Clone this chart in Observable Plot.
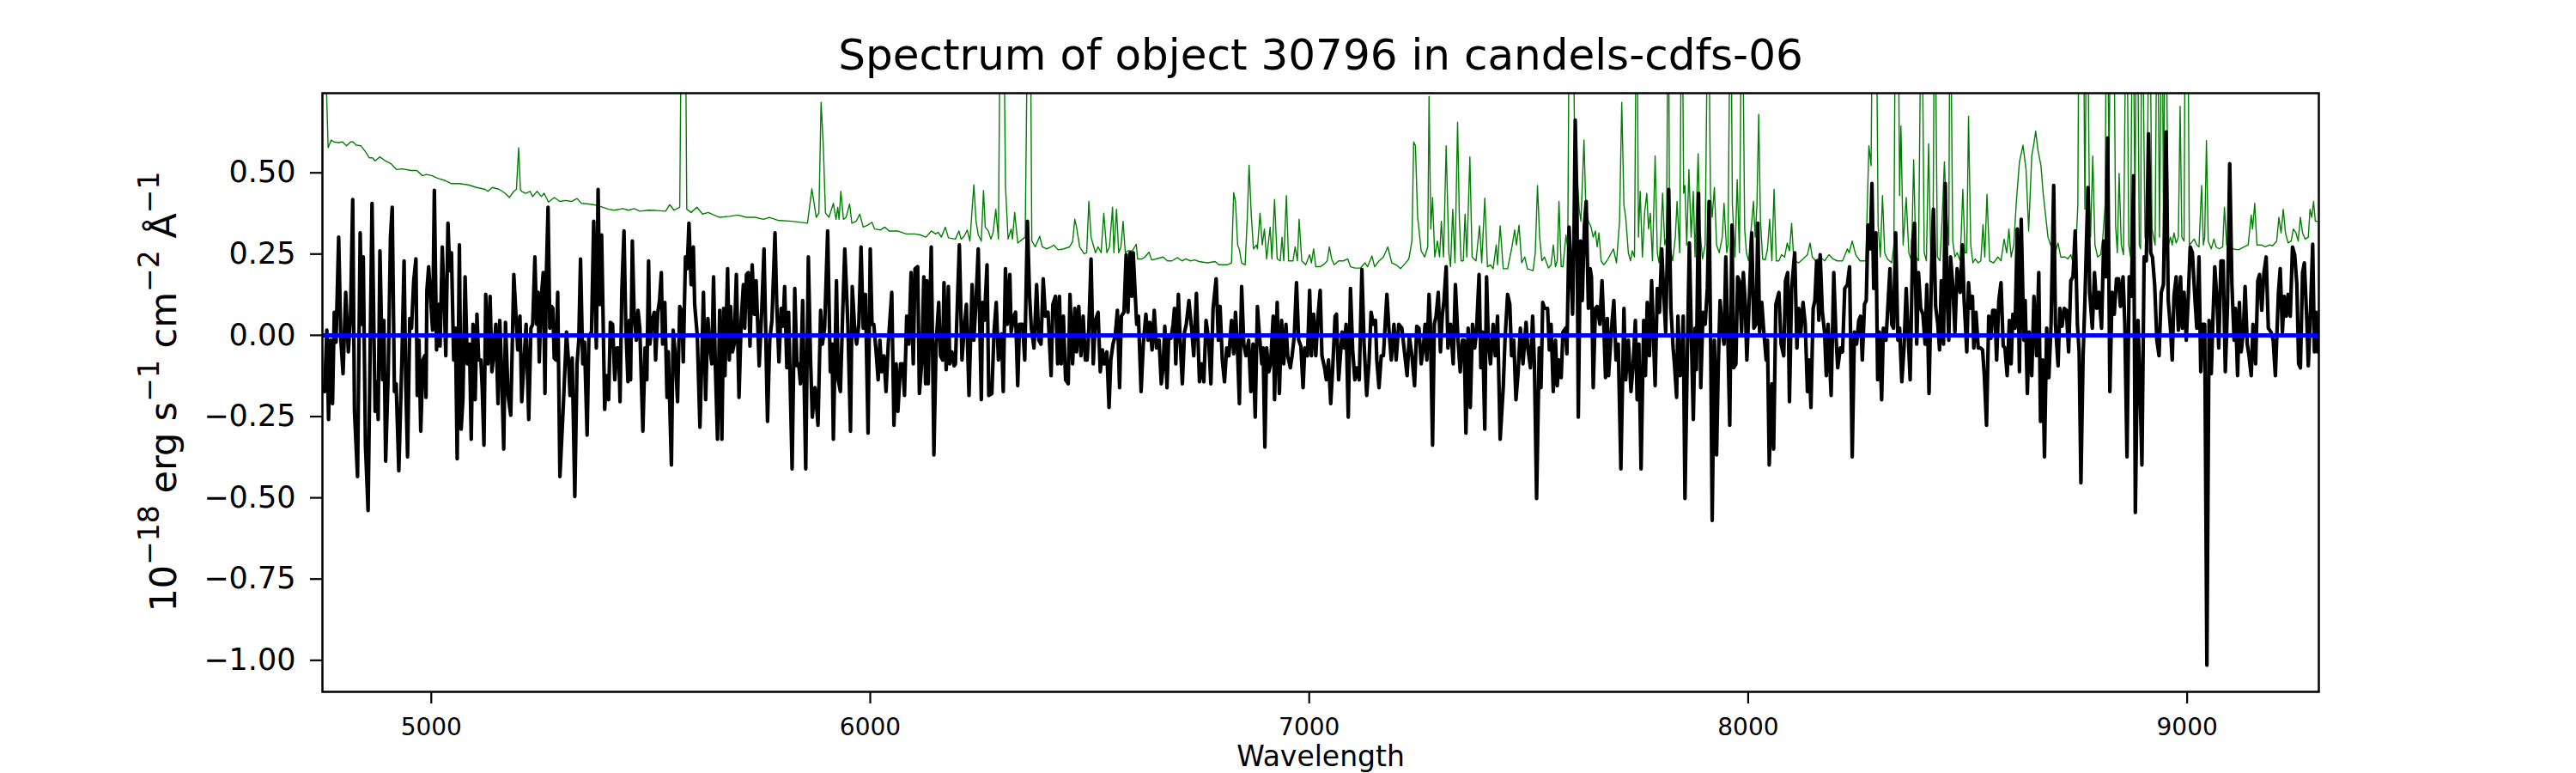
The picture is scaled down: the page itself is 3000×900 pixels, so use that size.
<!DOCTYPE html>
<html><head><meta charset="utf-8">
<script src="https://cdn.jsdelivr.net/npm/d3@7"></script>
<script src="https://cdn.jsdelivr.net/npm/@observablehq/plot@0.6"></script>
<style>
html,body{margin:0;padding:0;background:#fff;}
#chart svg{display:block}
</style></head><body><div id="chart"></div>
<script>
const titleText = "Spectrum of object 30796 in candels-cdfs-06";
const xLabel = "Wavelength";
const xTicks = [5000, 6000, 7000, 8000, 9000];
const yTicks = [-1.0, -0.75, -0.5, -0.25, 0, 0.25, 0.5];

// object spectrum [wavelength (Å), flux]
const objectFlux = [
[4752,-0.161],[4757,-0.173],[4762,0.016],[4766,-0.259],[4770,-0.015],[4775,-0.210],[4779,0.071],[4783,-0.021],[4789,0.302],[4794,-0.015],[4799,-0.118],[4805,0.132],[4811,-0.051],[4816,0.059],[4821,0.418],[4825,-0.234],[4832,-0.435],[4838,0.315],[4842,0.034],[4845,0.241],[4850,-0.338],[4856,-0.539],[4865,0.406],[4872,-0.234],[4876,-0.143],[4879,-0.259],[4883,0.260],[4889,-0.137],[4892,0.046],[4896,-0.387],[4902,-0.112],[4907,0.302],[4911,0.394],[4916,-0.173],[4920,-0.149],[4926,-0.417],[4933,-0.076],[4938,0.229],[4942,-0.161],[4946,-0.374],[4951,0.052],[4955,0.022],[4960,0.168],[4965,0.235],[4968,-0.185],[4972,-0.015],[4976,-0.295],[4981,-0.076],[4985,-0.063],[4988,-0.191],[4990,0.138],[4994,0.211],[4999,0.101],[5003,0.016],[5007,0.446],[5012,-0.045],[5017,0.095],[5020,-0.033],[5025,0.272],[5030,0.083],[5033,-0.063],[5038,0.345],[5042,0.199],[5046,0.254],[5051,-0.076],[5055,0.022],[5059,-0.380],[5064,0.278],[5068,-0.289],[5072,-0.198],[5077,0.180],[5082,-0.088],[5087,-0.027],[5091,-0.320],[5095,0.034],[5100,-0.198],[5104,0.065],[5108,-0.076],[5113,-0.076],[5116,-0.161],[5120,-0.338],[5124,0.126],[5129,-0.088],[5134,0.120],[5138,-0.112],[5142,-0.063],[5147,0.034],[5152,-0.210],[5156,0.046],[5160,-0.100],[5165,-0.350],[5169,0.040],[5175,-0.185],[5181,-0.246],[5188,0.187],[5193,0.059],[5197,-0.045],[5202,0.059],[5206,-0.204],
[5216,0.034],[5222,-0.259],[5227,0.022],[5231,0.034],[5236,0.241],[5240,0.034],[5243,0.132],[5246,-0.082],[5250,0.107],[5255,0.193],[5259,-0.179],[5262,0.180],[5266,0.394],[5270,0.022],[5274,0.089],[5277,0.083],[5280,-0.070],[5284,-0.076],[5288,0.132],[5293,-0.435],[5301,-0.210],[5308,0.010],[5313,-0.088],[5316,-0.185],[5321,-0.070],[5327,-0.496],[5332,-0.088],[5336,-0.015],[5340,0.235],[5345,-0.088],[5349,-0.021],[5355,-0.307],[5359,-0.002],[5365,0.010],[5370,0.351],[5373,0.156],[5376,-0.039],[5380,0.449],[5384,0.095],[5388,0.309],[5391,0.083],[5395,-0.228],[5399,-0.124],[5404,-0.198],[5408,0.040],[5413,0.034],[5418,-0.137],[5423,-0.039],[5427,-0.039],[5430,-0.204],[5434,0.132],[5439,0.321],[5443,0.034],[5448,-0.143],[5451,0.046],[5454,-0.137],[5458,0.290],[5462,0.071],[5467,-0.015],[5471,0.077],[5475,0.022],[5482,-0.295],[5487,-0.039],[5491,-0.137],[5495,0.229],[5498,-0.027],[5503,0.046],[5508,0.071],[5511,-0.076],[5516,0.071],[5520,0.107],[5524,0.193],[5527,-0.027],[5532,0.101],[5537,-0.191],[5540,-0.051],[5547,-0.399],[5551,0.016],[5556,-0.063],[5561,-0.204],[5566,0.089],[5571,0.071],[5574,-0.082],[5579,0.241],[5583,0.205],[5587,0.345],[5592,0.156],[5597,0.272],[5600,0.095],[5606,-0.002],[5612,-0.283],[5616,-0.088],[5620,0.132],[5625,-0.198],[5630,0.052],[5634,-0.027],[5639,-0.088],[5643,0.180],[5647,-0.088],[5652,-0.320],[5657,0.077],
[5662,-0.320],[5666,0.083],[5669,-0.124],[5675,0.205],[5679,-0.076],[5682,0.089],[5686,-0.051],[5690,-0.027],[5695,0.187],[5701,-0.191],[5706,0.046],[5711,0.156],[5714,0.022],[5718,0.187],[5722,0.193],[5726,-0.033],[5731,0.217],[5736,0.065],[5740,0.168],[5747,-0.094],[5753,0.083],[5758,0.266],[5766,-0.265],[5771,-0.015],[5776,0.046],[5783,0.315],[5787,0.095],[5792,-0.082],[5797,0.083],[5801,0.028],[5805,0.150],[5810,-0.100],[5814,0.071],[5822,-0.411],[5828,0.144],[5833,-0.094],[5837,-0.088],[5841,-0.149],[5846,0.107],[5853,-0.411],[5859,0.241],[5864,-0.076],[5868,-0.252],[5874,-0.161],[5877,-0.204],[5881,-0.277],[5887,0.077],[5891,-0.027],[5896,0.022],[5903,0.321],[5909,-0.112],[5913,-0.027],[5916,-0.320],[5923,0.168],[5927,-0.137],[5932,-0.173],[5937,0.059],[5942,0.266],[5949,0.034],[5955,-0.295],[5959,0.150],[5965,0.010],[5969,-0.027],[5974,0.034],[5979,0.272],[5984,0.022],[5989,0.126],[5995,-0.301],[6000,0.266],[6004,0.034],[6008,0.034],[6013,-0.045],[6018,-0.137],[6022,-0.015],[6026,-0.112],[6031,-0.063],[6036,-0.173],[6041,-0.027],[6049,0.132],[6054,-0.277],[6059,-0.088],[6063,-0.234],[6069,-0.088],[6074,-0.088],[6078,-0.185],[6083,0.059],[6088,-0.027],[6093,0.193],[6098,-0.088],[6102,0.205],[6108,0.211],[6112,-0.179],[6117,-0.088],[6122,0.180],[6126,-0.149],
[6129,0.168],[6132,-0.149],[6139,0.272],[6145,-0.368],[6150,-0.027],[6156,0.101],[6160,-0.063],[6165,-0.076],[6168,0.162],[6173,-0.106],[6178,0.150],[6181,-0.088],[6186,-0.051],[6191,-0.094],[6194,-0.088],[6199,0.120],[6203,0.278],[6209,-0.076],[6214,0.022],[6219,0.095],[6225,-0.185],[6232,0.156],[6236,-0.015],[6241,0.107],[6246,0.266],[6253,-0.198],[6256,0.101],[6260,0.046],[6266,0.217],[6270,-0.185],[6277,-0.179],[6282,0.010],[6287,0.101],[6292,-0.076],[6295,-0.045],[6299,0.004],[6303,-0.173],[6308,0.205],[6312,0.034],[6318,0.187],[6321,0.010],[6327,0.059],[6331,0.071],[6336,-0.155],[6340,0.034],[6347,0.034],[6352,-0.076],[6358,0.351],[6363,0.120],[6367,0.022],[6373,-0.039],[6379,0.156],[6384,-0.015],[6389,-0.027],[6394,0.174],[6399,0.059],[6405,0.071],[6412,-0.124],[6416,0.095],[6422,0.120],[6427,-0.088],[6431,0.120],[6435,-0.088],[6440,0.059],[6445,-0.137],[6451,-0.149],[6455,0.126],[6461,-0.088],[6466,0.083],[6470,-0.051],[6475,0.089],[6480,-0.063],[6485,0.059],[6490,-0.076],[6494,-0.076],[6498,0.022],[6503,0.235],[6508,-0.088],[6513,0.046],[6519,0.071],[6524,-0.112],[6529,-0.045],[6533,-0.088],[6539,-0.051],[6544,-0.222],[6548,-0.076],[6553,-0.027],[6558,-0.002],[6563,0.077],[6568,-0.161],[6572,0.059],[6578,0.071],[6583,0.248],[6587,0.071],[6592,0.254],[6596,0.120],
[6599,0.254],[6607,0.034],[6611,0.059],[6617,-0.173],[6622,-0.027],[6628,0.065],[6633,-0.015],[6637,0.040],[6642,-0.045],[6647,0.077],[6652,-0.039],[6658,-0.015],[6663,-0.149],[6667,-0.100],[6671,0.028],[6676,-0.161],[6680,-0.002],[6685,-0.009],[6690,0.034],[6693,0.083],[6696,-0.088],[6702,0.126],[6706,-0.015],[6711,-0.149],[6716,0.010],[6720,0.034],[6726,0.107],[6732,0.022],[6737,-0.063],[6743,0.129],[6750,-0.143],[6755,-0.088],[6760,-0.143],[6765,0.046],[6771,-0.015],[6776,-0.149],[6781,0.083],[6788,0.174],[6793,-0.015],[6797,0.089],[6802,-0.076],[6807,-0.143],[6812,-0.039],[6817,-0.063],[6823,0.046],[6828,-0.057],[6832,0.071],[6836,-0.021],[6841,-0.210],[6846,0.150],[6851,-0.027],[6856,-0.063],[6862,-0.015],[6867,-0.173],[6872,-0.027],[6877,-0.252],[6882,0.089],[6886,0.010],[6892,-0.088],[6895,-0.039],[6899,-0.344],[6903,-0.039],[6908,-0.112],[6912,-0.088],[6918,0.059],[6921,-0.198],[6927,0.101],[6932,-0.179],[6937,0.046],[6942,-0.088],[6947,0.034],[6951,-0.063],[6957,-0.100],[6961,-0.063],[6966,-0.002],[6971,0.162],[6976,-0.015],[6981,-0.033],[6986,-0.161],[6990,-0.039],[6996,-0.063],[7001,0.138],[7005,-0.063],[7010,0.065],[7015,-0.063],[7020,0.059],[7025,0.138],[7029,-0.063],[7035,-0.100],[7039,-0.137],[7044,-0.076],[7049,-0.210],[7054,-0.088],[7059,0.059],[7062,0.065],[7067,-0.137],
[7075,0.010],[7080,-0.039],[7084,0.034],[7089,-0.252],[7094,0.144],[7099,-0.045],[7104,-0.137],[7108,-0.100],[7114,-0.137],[7120,0.202],[7125,-0.027],[7131,-0.185],[7136,-0.088],[7141,0.071],[7146,0.034],[7151,0.046],[7154,-0.076],[7159,-0.161],[7164,-0.063],[7169,-0.063],[7177,0.126],[7182,0.010],[7187,-0.076],[7193,0.034],[7198,-0.076],[7204,0.034],[7211,0.022],[7218,-0.063],[7223,-0.124],[7228,-0.002],[7234,-0.063],[7240,-0.155],[7245,0.028],[7250,0.022],[7255,-0.088],[7260,-0.039],[7264,0.034],[7268,-0.076],[7273,0.126],[7276,0.034],[7281,-0.338],[7285,0.034],[7289,0.059],[7294,0.132],[7299,-0.051],[7303,0.059],[7307,0.107],[7312,0.211],[7316,-0.039],[7322,0.034],[7328,-0.088],[7333,0.156],[7339,-0.015],[7344,-0.112],[7349,-0.015],[7353,-0.015],[7357,-0.301],[7362,0.022],[7367,-0.222],[7372,0.034],[7377,-0.039],[7381,0.010],[7387,0.187],[7391,-0.100],[7395,0.010],[7400,-0.289],[7404,0.180],[7408,-0.015],[7413,-0.088],[7419,0.034],[7424,-0.063],[7429,0.059],[7435,-0.320],[7442,-0.161],[7446,-0.015],[7452,0.126],[7457,0.095],[7461,-0.063],[7466,-0.015],[7471,-0.198],[7476,-0.112],[7481,0.022],[7487,-0.088],[7494,0.040],[7498,-0.039],[7504,-0.100],[7509,0.059],[7513,-0.088],[7518,-0.502],[7524,-0.039],[7528,-0.161],[7532,0.101],[7536,0.083],
[7543,0.083],[7547,-0.045],[7551,0.034],[7556,-0.173],[7561,-0.015],[7565,-0.155],[7569,-0.076],[7574,-0.130],[7578,0.010],[7584,0.022],[7587,-0.057],[7592,0.333],[7597,0.180],[7600,0.065],[7603,0.278],[7606,0.662],[7610,0.400],[7613,-0.252],[7618,0.290],[7622,0.107],[7627,0.339],[7631,0.412],[7636,0.083],[7640,0.205],[7643,0.180],[7647,-0.161],[7652,0.083],[7656,0.089],[7662,0.034],[7667,0.168],[7671,0.034],[7675,-0.130],[7679,0.052],[7682,-0.124],[7688,0.010],[7694,0.107],[7699,-0.076],[7704,-0.027],[7710,-0.411],[7717,0.083],[7721,-0.137],[7727,-0.015],[7733,-0.173],[7738,-0.088],[7743,0.046],[7747,-0.198],[7751,-0.027],[7756,-0.411],[7762,0.046],[7766,-0.124],[7770,0.101],[7775,-0.063],[7780,0.168],[7784,0.010],[7788,-0.155],[7793,0.144],[7798,0.071],[7803,0.266],[7808,0.120],[7812,0.010],[7819,0.449],[7824,0.083],[7829,-0.039],[7832,-0.088],[7837,-0.191],[7840,0.059],[7845,-0.124],[7849,-0.088],[7852,0.059],[7856,-0.502],[7861,-0.088],[7866,0.284],[7871,-0.027],[7875,-0.259],[7879,0.022],[7882,-0.106],[7887,0.437],[7892,-0.161],[7897,0.071],[7902,0.034],[7907,0.144],[7911,0.412],[7915,-0.088],[7918,-0.570],[7923,-0.015],[7928,-0.368],[7932,-0.088],[7936,0.107],[7941,0.016],[7945,-0.027],[7949,0.241],[7954,-0.027],[7958,-0.277],[7963,0.339],[7967,-0.100],[7972,-0.088],[7976,0.180],[7980,0.168],[7985,0.010],[7989,0.193],[7993,0.107],[7997,-0.076],[8001,0.059],
[8008,0.315],[8013,0.022],[8018,0.034],[8022,0.345],[8026,0.010],[8031,0.101],[8035,0.022],[8041,-0.076],[8044,-0.015],[8048,-0.399],[8054,-0.149],[8058,-0.350],[8063,0.095],[8070,0.132],[8075,-0.027],[8081,-0.063],[8085,0.168],[8090,0.193],[8094,-0.204],[8099,0.144],[8106,0.254],[8111,-0.039],[8115,0.083],[8120,0.010],[8125,0.101],[8130,0.034],[8135,-0.173],[8139,-0.076],[8143,-0.222],[8148,0.083],[8152,0.107],[8156,0.229],[8161,0.046],[8164,0.248],[8169,0.071],[8174,0.010],[8178,-0.124],[8182,0.034],[8189,-0.185],[8195,0.193],[8200,-0.002],[8204,-0.100],[8210,-0.039],[8215,-0.051],[8220,0.144],[8226,0.156],[8231,0.211],[8237,-0.374],[8242,0.010],[8247,-0.027],[8252,0.046],[8256,0.059],[8260,-0.076],[8265,0.095],[8269,0.107],[8273,0.339],[8278,0.266],[8282,0.467],[8286,0.144],[8291,0.315],[8295,-0.137],[8299,0.010],[8304,-0.198],[8308,0.022],[8314,-0.015],[8317,0.059],[8323,0.205],[8327,0.034],[8331,0.022],[8336,0.315],[8341,-0.015],[8345,0.022],[8350,-0.143],[8355,-0.039],[8360,0.144],[8365,-0.015],[8369,-0.137],[8375,0.290],[8379,0.345],[8384,-0.027],[8388,0.193],[8393,0.083],[8398,0.065],[8403,-0.027],[8407,0.156],[8412,-0.179],[8418,0.217],[8422,0.388],[8427,0.089],[8432,0.034],[8436,-0.045],[8440,0.168],[8445,-0.027],[8449,0.467],[8453,0.132],[8457,-0.015],[8461,0.241],[8466,0.156],[8471,0.010],[8476,0.205],
[8483,0.132],[8488,0.278],[8492,0.107],[8498,-0.051],[8502,0.162],[8506,0.083],[8511,0.120],[8514,-0.039],[8519,0.071],[8524,-0.039],[8529,-0.039],[8534,-0.045],[8538,-0.124],[8543,-0.277],[8548,0.059],[8553,-0.009],[8557,0.077],[8562,0.077],[8566,-0.076],[8571,0.107],[8576,0.162],[8581,-0.033],[8585,-0.039],[8590,-0.124],[8595,0.046],[8599,-0.088],[8603,0.065],[8608,0.022],[8613,0.327],[8618,-0.112],[8622,0.357],[8628,-0.015],[8631,0.107],[8636,-0.179],[8640,0.010],[8646,-0.124],[8651,0.120],[8657,-0.063],[8662,0.193],[8666,-0.265],[8671,-0.076],[8675,-0.374],[8680,0.022],[8685,-0.130],[8690,0.034],[8696,0.461],[8700,0.034],[8706,-0.094],[8710,0.083],[8715,0.028],[8720,0.083],[8725,0.077],[8730,-0.051],[8735,0.168],[8740,0.180],[8745,0.321],[8750,0.034],[8754,-0.051],[8758,-0.454],[8763,-0.063],[8767,0.101],[8774,0.455],[8778,0.132],[8784,0.022],[8789,0.193],[8794,0.083],[8799,0.132],[8805,0.022],[8810,0.290],[8815,0.180],[8819,0.607],[8824,-0.173],[8829,0.132],[8834,0.065],[8839,0.174],[8844,0.174],[8848,0.089],[8854,0.180],[8858,0.034],[8863,-0.374],[8868,0.180],[8873,0.120],[8878,0.491],[8882,-0.545],[8888,0.046],[8892,-0.124],[8897,-0.399],[8902,0.241],[8907,0.229],[8912,0.620],[8917,0.254],[8921,0.241],[8926,0.156],[8931,-0.015],[8936,-0.063],[8941,0.132],[8946,0.156],
[8952,0.626],[8957,0.107],[8962,0.022],[8966,-0.076],[8970,0.120],[8975,0.180],[8980,0.016],[8985,0.180],[8989,0.022],[8993,0.132],[8998,-0.015],[9003,0.132],[9007,0.272],[9012,0.254],[9018,0.107],[9022,0.022],[9027,0.241],[9031,-0.112],[9035,0.034],[9040,0.034],[9045,-1.015],[9050,0.046],[9055,-0.118],[9059,0.059],[9063,0.211],[9068,0.107],[9072,-0.039],[9077,0.229],[9082,0.229],[9087,-0.112],[9092,0.095],[9097,0.528],[9102,0.156],[9107,-0.015],[9110,0.083],[9115,-0.124],[9119,0.101],[9123,-0.051],[9128,0.010],[9132,0.150],[9137,-0.027],[9141,-0.063],[9146,-0.124],[9150,0.034],[9156,-0.088],[9161,0.168],[9165,0.187],[9170,0.077],[9175,0.193],[9180,0.241],[9185,0.022],[9191,0.010],[9196,-0.015],[9201,-0.124],[9208,0.132],[9212,0.205],[9217,0.010],[9221,0.120],[9226,0.059],[9230,0.126],[9235,0.059],[9240,0.272],[9245,0.248],[9250,0.156],[9254,-0.088],[9258,-0.100],[9263,0.193],[9267,0.223],[9273,0.034],[9276,-0.094],[9280,0.034],[9286,0.280],[9290,-0.051],[9294,0.071],[9297,-0.051]
];

// noise / sky spectrum [wavelength (Å), flux]
const noiseFlux = [
[4752,1.2],[4765,0.577],[4772,0.601],[4778,0.595],[4788,0.593],[4798,0.595],[4807,0.583],[4816,0.595],[4822,0.595],[4829,0.585],[4840,0.583],[4850,0.565],[4859,0.546],[4866,0.546],[4872,0.537],[4883,0.549],[4895,0.537],[4908,0.528],[4921,0.510],[4934,0.512],[4954,0.507],[4967,0.507],[4980,0.491],[4989,0.495],[5002,0.491],[5015,0.483],[5032,0.476],[5045,0.467],[5064,0.467],[5084,0.463],[5103,0.455],[5123,0.449],[5129,0.443],[5139,0.455],[5155,0.449],[5168,0.437],[5178,0.424],[5188,0.443],[5194,0.449],[5199,0.577],[5203,0.449],
[5206,0.443],[5215,0.437],[5225,0.443],[5231,0.427],[5241,0.443],[5251,0.427],[5257,0.437],[5267,0.410],[5280,0.424],[5293,0.412],[5306,0.415],[5319,0.412],[5332,0.421],[5342,0.406],[5358,0.404],[5378,0.400],[5391,0.394],[5404,0.388],[5417,0.385],[5436,0.390],[5449,0.385],[5462,0.390],[5475,0.382],[5495,0.385],[5514,0.384],[5534,0.382],[5543,0.402],[5553,0.385],[5566,0.394],[5571,1.2],[5578,1.2],[5582,0.388],[5592,0.378],[5605,0.394],[5618,0.373],[5631,0.378],[5644,0.370],[5657,0.363],
[5679,0.366],[5698,0.370],[5718,0.363],[5737,0.363],[5757,0.357],[5770,0.363],[5789,0.354],[5822,0.351],[5857,0.345],[5867,0.451],[5877,0.363],[5883,0.376],[5888,0.717],[5893,0.583],[5898,0.376],[5906,0.363],[5916,0.406],[5922,0.357],[5926,0.394],[5929,0.357],[5933,0.443],[5939,0.357],[5945,0.363],[5953,0.404],[5958,0.345],[5968,0.351],[5976,0.373],[5984,0.333],[5994,0.339],[6004,0.348],[6010,0.327],[6023,0.324],[6033,0.333],[6043,0.321],[6062,0.321],[6082,0.312],[6101,0.312],[6114,0.309],[6127,0.302],
[6139,0.321],[6149,0.312],[6155,0.317],[6162,0.302],[6171,0.333],[6178,0.300],[6194,0.296],[6202,0.321],[6207,0.296],[6214,0.305],[6221,0.324],[6227,0.290],[6236,0.463],[6241,0.351],[6246,0.309],[6253,0.290],[6258,0.446],[6262,0.333],[6269,0.321],[6275,0.296],[6280,0.317],[6286,0.388],[6292,0.296],[6297,1.2],[6303,1.2],[6308,0.461],[6314,0.296],[6321,0.327],[6324,0.296],[6329,0.378],[6336,0.284],[6347,0.296],[6353,0.302],[6360,1.2],[6364,1.2],[6368,0.290],[6376,0.272],[6386,0.305],[6392,0.272],[6402,0.266],[6412,0.272],[6418,0.278],[6428,0.263],[6441,0.266],[6454,0.272],[6461,0.288],[6466,0.357],[6470,0.333],[6477,0.272],[6487,0.251],[6493,0.254],[6498,0.412],[6503,0.302],[6513,0.254],[6519,0.272],[6526,0.254],[6532,0.376],[6539,0.254],[6545,0.272],[6552,0.394],[6555,0.254],[6561,0.388],[6566,0.254],[6571,0.272],[6576,0.351],[6581,0.254],[6587,0.260],[6597,0.260],
[6606,0.280],[6609,0.235],[6619,0.235],[6626,0.241],[6635,0.256],[6641,0.232],[6651,0.235],[6667,0.241],[6677,0.229],[6687,0.229],[6700,0.239],[6710,0.229],[6719,0.235],[6729,0.229],[6739,0.232],[6749,0.227],[6768,0.223],[6786,0.227],[6794,0.217],[6813,0.217],[6823,0.223],[6828,0.439],[6832,0.412],[6837,0.278],[6841,0.263],[6846,0.223],[6854,0.217],[6859,0.363],[6863,0.524],[6868,0.370],[6873,0.266],[6880,0.278],[6882,0.266],[6888,0.376],[6893,0.278],[6898,0.327],[6903,0.235],[6911,0.333],[6915,0.235],[6921,0.418],[6927,0.235],[6934,0.229],[6938,0.302],[6942,0.229],[6948,0.430],[6953,0.229],[6963,0.229],[6968,0.272],[6973,0.229],[6977,0.357],[6983,0.229],[6992,0.217],[7001,0.248],[7005,0.223],[7010,0.266],[7015,0.211],[7025,0.211],[7035,0.220],[7041,0.229],[7046,0.272],[7051,0.235],[7057,0.217],[7067,0.229],
[7078,0.229],[7088,0.235],[7094,0.211],[7104,0.207],[7117,0.207],[7127,0.223],[7133,0.211],[7143,0.244],[7149,0.211],[7159,0.229],[7169,0.241],[7179,0.272],[7188,0.223],[7198,0.217],[7208,0.205],[7218,0.220],[7227,0.235],[7234,0.290],[7238,0.595],[7242,0.583],[7247,0.363],[7250,0.327],[7255,0.260],[7263,0.241],[7270,0.272],[7273,0.735],[7277,0.327],[7281,0.424],[7286,0.241],[7292,0.290],[7297,0.241],[7301,0.351],[7306,0.241],[7312,0.583],[7318,0.254],[7322,0.211],[7327,0.388],[7332,0.223],[7338,0.656],[7342,0.363],[7346,0.229],[7351,0.229],[7355,0.373],[7359,0.241],[7366,0.549],[7371,0.241],[7380,0.229],[7388,0.337],[7393,0.223],[7400,0.422],[7406,0.211],[7413,0.217],[7419,0.205],[7426,0.278],[7429,0.217],[7435,0.337],[7442,0.205],[7452,0.205],[7461,0.266],[7468,0.324],[7472,0.278],[7478,0.339],[7484,0.223],[7491,0.241],[7497,0.205],[7510,0.199],[7515,0.254],[7520,0.461],[7525,0.302],[7530,0.229],[7536,0.241],
[7545,0.207],[7551,0.217],[7556,0.278],[7561,0.211],[7565,0.229],[7569,0.412],[7574,0.211],[7578,0.211],[7585,0.309],[7589,0.266],[7593,1.2],[7600,1.2],[7604,0.668],[7610,0.498],[7615,0.388],[7619,0.351],[7626,0.601],[7630,0.400],[7636,0.351],[7642,0.333],[7647,0.302],[7652,0.321],[7656,0.272],[7660,0.315],[7665,0.229],[7671,0.217],[7678,0.229],[7686,0.248],[7693,0.266],[7697,0.241],[7700,0.223],[7707,0.351],[7712,0.717],[7717,0.400],[7721,0.363],[7727,0.254],[7732,0.229],[7736,0.260],[7741,0.241],[7746,1.2],[7750,0.302],[7754,0.443],[7759,0.241],[7764,0.376],[7769,0.437],[7773,0.327],[7777,0.376],[7782,0.229],[7788,0.552],[7793,0.254],[7797,0.223],[7801,0.302],[7805,0.437],[7810,0.278],[7814,0.302],[7818,1.2],[7821,0.278],[7828,0.229],[7834,0.302],[7838,0.412],[7844,0.254],[7849,1.2],[7853,0.437],[7856,0.461],[7860,0.278],[7865,0.510],[7870,0.302],[7875,0.443],[7879,0.241],[7886,0.559],[7890,0.327],[7896,0.235],[7902,0.278],[7909,1.2],[7914,0.437],[7918,0.363],[7923,0.455],[7928,0.278],[7934,0.254],[7941,0.302],[7945,0.406],[7951,0.254],[7954,0.278],[7960,1.2],[7964,0.400],[7970,0.241],[7975,0.479],[7980,0.254],[7986,1.2],[7992,0.327],[7996,0.254],[8001,0.229],[8006,0.315],
[8012,0.412],[8016,0.302],[8020,0.400],[8024,0.680],[8028,0.351],[8033,0.235],[8039,0.232],[8044,0.266],[8049,0.357],[8054,0.229],[8059,0.449],[8064,0.229],[8070,0.229],[8076,0.248],[8083,0.241],[8089,0.284],[8094,0.260],[8099,0.345],[8104,0.229],[8115,0.223],[8125,0.235],[8135,0.248],[8141,0.284],[8146,0.241],[8154,0.229],[8164,0.241],[8174,0.229],[8184,0.248],[8193,0.235],[8203,0.229],[8215,0.229],[8226,0.266],[8230,0.254],[8237,0.290],[8245,0.248],[8255,0.229],[8268,0.229],[8275,0.583],[8280,0.522],[8284,1.2],[8291,1.2],[8296,0.339],[8301,0.241],[8306,0.430],[8311,0.254],[8317,0.235],[8327,0.223],[8332,0.278],[8336,1.2],[8341,1.2],[8345,0.430],[8348,0.644],[8353,0.278],[8360,0.424],[8366,0.254],[8372,0.229],[8377,0.540],[8382,0.241],[8388,0.229],[8395,1.2],[8401,0.254],[8406,0.229],[8411,0.589],[8416,0.241],[8421,0.278],[8425,1.2],[8431,0.241],[8437,0.229],[8442,0.363],[8447,0.534],[8451,0.400],[8457,0.278],[8460,1.2],[8466,0.290],[8471,0.241],[8476,0.254],
[8483,0.229],[8489,0.449],[8494,0.254],[8498,0.254],[8502,0.674],[8507,0.278],[8512,0.223],[8517,0.235],[8524,0.223],[8530,0.229],[8535,0.341],[8539,0.241],[8544,0.434],[8550,0.229],[8559,0.223],[8569,0.241],[8576,0.229],[8583,0.296],[8589,0.254],[8594,0.327],[8599,0.241],[8605,0.278],[8611,0.412],[8618,0.534],[8626,0.585],[8633,0.510],[8639,0.321],[8646,0.552],[8650,0.583],[8655,0.628],[8660,0.571],[8667,0.522],[8672,0.437],[8677,0.376],[8683,0.302],[8689,0.278],[8699,0.254],[8706,0.284],[8712,0.241],[8722,0.241],[8728,0.235],[8735,0.248],[8739,0.229],[8746,0.254],[8751,0.400],[8754,1.2],[8763,1.2],[8767,0.388],[8772,1.2],[8777,0.461],[8780,0.302],[8785,0.552],[8790,0.278],[8796,0.241],[8803,0.248],[8808,0.302],[8813,0.400],[8817,1.2],[8822,0.522],[8827,1.2],[8832,1.2],[8837,0.339],[8841,0.254],[8845,0.498],[8850,0.278],[8855,0.248],[8862,1.2],[8867,0.278],[8871,0.241],[8876,1.2],[8881,0.400],[8886,1.2],[8891,0.278],[8894,0.266],[8897,1.2],[8904,0.302],[8908,0.278],[8914,1.2],[8920,0.327],[8927,0.278],[8932,1.2],[8937,0.302],[8943,1.2],[8946,0.350],[8951,1.2],
[8957,0.278],[8962,0.302],[8966,0.278],[8970,0.315],[8975,0.284],[8980,0.302],[8984,0.705],[8988,0.302],[8993,0.290],[8996,1.2],[9001,1.2],[9005,0.278],[9009,0.284],[9016,0.296],[9022,0.278],[9027,0.272],[9033,0.461],[9037,0.278],[9040,0.302],[9044,0.599],[9048,0.290],[9055,0.266],[9061,0.296],[9066,0.272],[9073,0.266],[9081,0.272],[9085,0.394],[9090,0.278],[9097,0.278],[9104,0.266],[9117,0.263],[9130,0.272],[9139,0.278],[9146,0.370],[9149,0.327],[9154,0.406],[9159,0.278],[9169,0.278],[9178,0.272],[9188,0.278],[9195,0.276],[9204,0.290],[9209,0.363],[9214,0.315],[9219,0.388],[9224,0.315],[9230,0.284],[9237,0.290],[9242,0.327],[9248,0.315],[9253,0.290],[9258,0.363],[9263,0.315],[9269,0.296],[9276,0.302],[9280,0.388],[9284,0.363],[9288,0.412],[9292,0.351],[9297,0.351]
];

// model / continuum level [wavelength (Å), flux]
const modelFlux = [[4752, 0.0], [9297, 0.0]];

const rows = a => a.map(([w, f]) => ({w, f}));

const chart = Plot.plot({
  width: 3000,
  height: 900,
  marginLeft: 375,
  marginRight: 300,
  marginTop: 108,
  marginBottom: 95,
  style: {fontFamily: "DejaVu Sans", background: "white", color: "black", overflow: "visible"},
  x: {domain: [4752, 9300]},
  y: {domain: [-1.097, 0.745]},
  marks: [
    Plot.line(rows(noiseFlux), {x: "w", y: "f", stroke: "green", strokeWidth: 1.4, clip: true}),
    Plot.line(rows(objectFlux), {x: "w", y: "f", stroke: "black", strokeWidth: 4.2, strokeLinejoin: "round", clip: true}),
    Plot.line(rows(modelFlux), {x: "w", y: "f", stroke: "blue", strokeWidth: 5, clip: true}),
    Plot.frame({stroke: "black", strokeWidth: 2.5}),
    Plot.axisX({ticks: xTicks, tickFormat: d3.format("d"), tickSize: 14, tickPadding: 17, fontSize: 28, strokeWidth: 2.2, label: null}),
    Plot.axisY({ticks: yTicks, tickFormat: d3.format(".2f"), tickSize: 14, tickPadding: 17, fontSize: 35, strokeWidth: 2.2, label: null}),
    Plot.text([titleText], {text: d => d, frameAnchor: "top", dy: -28, fontSize: 50, lineAnchor: "bottom", fill: "black"}),
    Plot.text([xLabel], {text: d => d, frameAnchor: "bottom", dy: 86, fontSize: 33, lineAnchor: "bottom", fill: "black"})
  ]
});

document.getElementById("chart").appendChild(chart);

// y-axis label with superscripts
const parts = [
  ["10", false], ["\u221218", true], [" erg s", false], ["\u22121", true],
  [" cm", false], ["\u22122", true], [" \u00C5", false], ["\u22121", true]
];
const yl = d3.select(chart).append("text")
  .attr("transform", "translate(205,456) rotate(-90)")
  .attr("text-anchor", "middle")
  .attr("font-family", "DejaVu Sans")
  .attr("font-size", 43)
  .attr("fill", "black")
  .style("white-space", "pre");
let raised = false;
for (const [t, sup] of parts) {
  const ts = yl.append("tspan").text(t);
  if (sup) { ts.attr("font-size", 33); if (!raised) ts.attr("dy", -20); raised = true; }
  else { if (raised) ts.attr("dy", 20); raised = false; }
}
</script>
</body></html>
